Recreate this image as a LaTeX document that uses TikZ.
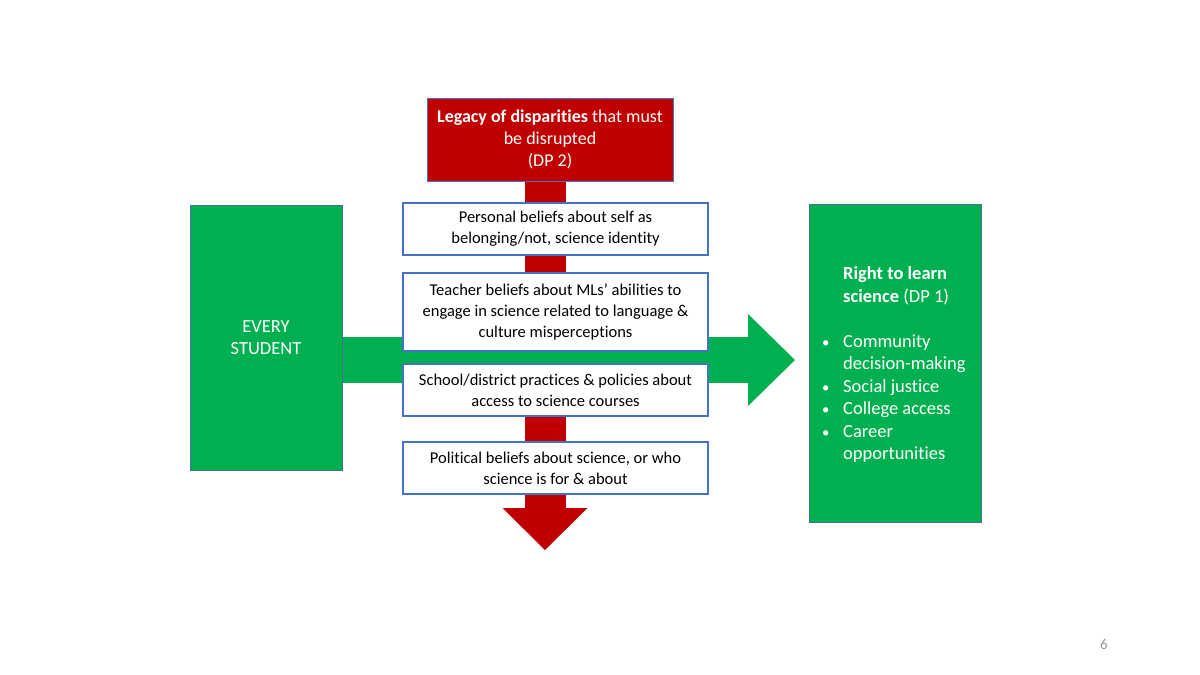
\documentclass[tikz,border=0pt]{standalone}
\usepackage{fontspec}
\setmainfont[Ligatures=NoCommon]{Carlito}
\usepackage{xcolor}
\usetikzlibrary{arrows.meta}
\definecolor{dred}{HTML}{C00000}
\definecolor{dgreen}{HTML}{00B050}
\definecolor{pblue}{HTML}{4472C4}
\definecolor{gline}{HTML}{41719C}
\tikzset{
  rbox/.style={draw=pblue,line width=1pt,fill=dred,text=white,inner sep=0pt,align=center,font=\fontsize{18}{22}\selectfont},
  gbox/.style={draw=gline,line width=1pt,fill=dgreen,text=white,inner sep=0pt,font=\fontsize{18.5}{22.5}\selectfont},
  wbox/.style={draw=pblue,line width=1.2pt,fill=white,minimum width=305pt,minimum height=52pt,inner sep=0pt,align=center,font=\fontsize{16.5}{21}\selectfont},
  ra/.style={draw=dred,line width=41pt,-{Triangle[length=42pt,width=85pt,line width=0pt]}},
  ga/.style={draw=dgreen,line width=46pt,-{Triangle[length=47pt,width=92pt,line width=0pt]}}
}
\newcommand{\bul}{\hspace{1pt}\scalebox{0.8}{\textbullet}}
\begin{document}
\begin{tikzpicture}[x=1pt,y=-1pt]
\useasboundingbox[fill=white] (0,0) rectangle (1200,675);
\node[rbox,minimum width=246pt,minimum height=83pt] (legacy) at (550,139.5) {\textbf{Legacy of disparities} that must\\be disrupted\\(DP 2)};
\node[gbox,minimum width=152pt,minimum height=265pt,align=center] (every) at (266,337.5) {EVERY\\STUDENT};
\node[gbox,minimum width=172pt,minimum height=318pt] (right) at (895,363) {};
\node[anchor=west,inner sep=0pt,text=white,font=\fontsize{18.5}{22.5}\selectfont] (rtxt) at (821,365) {\begin{tabular}{@{}p{22pt}@{}l@{}}
 & \textbf{Right to learn}\\ & \textbf{science} (DP 1)\\ & \\
\bul & Community\\ & decision-making\\ \bul & Social justice\\ \bul & College access\\ \bul & Career\\ & opportunities
\end{tabular}};
\coordinate (rtip) at (545,550); \coordinate (gtip) at (795,360);
\draw[ra] (legacy.south -| rtip) -- (rtip);
\draw[ga] (every.east |- gtip) -- (gtip);
\node[wbox] (self) at (555.5,229) {Personal beliefs about self as\\belonging/not, science identity};
\node[wbox,minimum height=78pt] (teach) at (555.5,312) {Teacher beliefs about MLs’ abilities to\\engage in science related to language \&\\culture misperceptions};
\node[wbox] (school) at (555.5,390) {School/district practices \& policies about\\access to science courses};
\node[wbox] (polit) at (555.5,468) {Political beliefs about science, or who\\science is for \& about};
\node[text=gray!80,font=\fontsize{15}{18}\selectfont] (pnum) at (1104,644) {6};
\end{tikzpicture}
\end{document}
